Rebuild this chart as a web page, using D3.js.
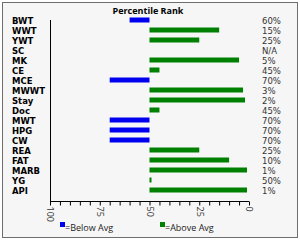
<!DOCTYPE html>
<html>
<head>
<meta charset="utf-8">
<script src="https://cdn.jsdelivr.net/npm/d3@7"></script>
<style>
  body { margin: 0; background: #fff; }
  svg text { font-family: "DejaVu Sans", sans-serif; }
</style>
</head>
<body>
<svg id="chart" width="300" height="240"></svg>
<script>
// categories top to bottom
var categories = ["BWT","WWT","YWT","SC","MK","CE","MCE","MWWT","Stay","Doc","MWT","HPG","CW","REA","FAT","MARB","YG","API"];
// percentile rank (bar ends), null = no data
var ranks = [60, 15, 25, null, 5, 45, 70, 3, 2, 45, 70, 70, 70, 25, 10, 1, 49, 1];
// labels printed on the right
var rankLabels = ["60%","15%","25%","N/A","5%","45%","70%","3%","2%","45%","70%","70%","70%","25%","10%","1%","50%","1%"];
var tickLabels = [100, 75, 50, 25, 0];
var avg = 50;

var svg = d3.select("#chart");

// frame
svg.append("rect")
    .attr("x", 2.5).attr("y", 2.5)
    .attr("width", 295).attr("height", 235)
    .attr("fill", "#f6f6f6")
    .attr("stroke", "#6e6e6e");

var x = d3.scaleLinear().domain([100, 0]).range([50, 249]);
var y = d3.scaleBand().domain(categories).range([15, 195]).paddingInner(0.5).paddingOuter(0.25);

svg.append("text")
    .attr("x", 148).attr("y", 14)
    .attr("text-anchor", "middle")
    .style("font-family", "'Open Sans', sans-serif")
    .style("font-size", "9px").style("font-weight", "bold")
    .text("Percentile Rank");

var rows = categories.map(function(c, i) { return {cat: c, v: ranks[i], lbl: rankLabels[i]}; });

// bars
svg.selectAll("rect.bar")
  .data(rows.filter(function(d) { return d.v != null; }))
  .enter().append("rect")
    .attr("class", "bar")
    .attr("x", function(d) { return Math.min(x(d.v), x(avg)); })
    .attr("width", function(d) { return Math.abs(x(d.v) - x(avg)); })
    .attr("y", function(d) { return y(d.cat); })
    .attr("height", y.bandwidth())
    .attr("fill", function(d) { return d.v > avg ? "#0000f0" : "#008000"; });

// row names
svg.selectAll("text.cat")
  .data(rows)
  .enter().append("text")
    .attr("class", "cat")
    .attr("x", 12)
    .attr("y", function(d) { return y(d.cat) + y.bandwidth() / 2 + 1.5; })
    .attr("dy", "0.35em")
    .style("font-size", "8.5px").style("font-weight", "bold")
    .text(function(d) { return d.cat; });

// rank labels
svg.selectAll("text.lbl")
  .data(rows)
  .enter().append("text")
    .attr("class", "lbl")
    .attr("x", 262)
    .attr("y", function(d) { return y(d.cat) + y.bandwidth() / 2 + 1.5; })
    .attr("dy", "0.35em")
    .attr("fill", "#333")
    .style("font-size", "8.5px")
    .text(function(d) { return d.lbl; });

// y axis line
svg.append("line")
    .attr("x1", 50.5).attr("x2", 50.5)
    .attr("y1", 20).attr("y2", 201)
    .attr("stroke", "#000");

// x axis
var xAxis = svg.append("g")
    .attr("transform", "translate(0,201.5)")
    .call(d3.axisBottom(x)
      .tickValues(d3.range(0, 101, 5))
      .tickSize(4)
      .tickFormat(function(d) { return tickLabels.indexOf(d) >= 0 ? d : ""; }));
xAxis.select(".domain").attr("d", "M" + x(100) + ",0H" + x(0));
xAxis.selectAll("text")
    .attr("transform", "rotate(90)")
    .attr("x", 5).attr("y", 0)
    .attr("dy", "0.35em")
    .attr("text-anchor", "start")
    .attr("fill", "#333")
    .style("font-size", "9px")
    .style("font-family", "'Open Sans', sans-serif");

// legend
var legend = [{c: "#0000f0", t: "=Below Avg", x: 60}, {c: "#008000", t: "=Above Avg", x: 160}];
legend.forEach(function(l) {
  svg.append("rect").attr("x", l.x).attr("y", 222).attr("width", 5).attr("height", 5).attr("fill", l.c);
  svg.append("text").attr("x", l.x + 5).attr("y", 230.5)
      .attr("fill", "#222")
      .style("font-family", "'Open Sans', sans-serif")
      .style("font-size", "9px").text(l.t);
});
</script>
</body>
</html>
